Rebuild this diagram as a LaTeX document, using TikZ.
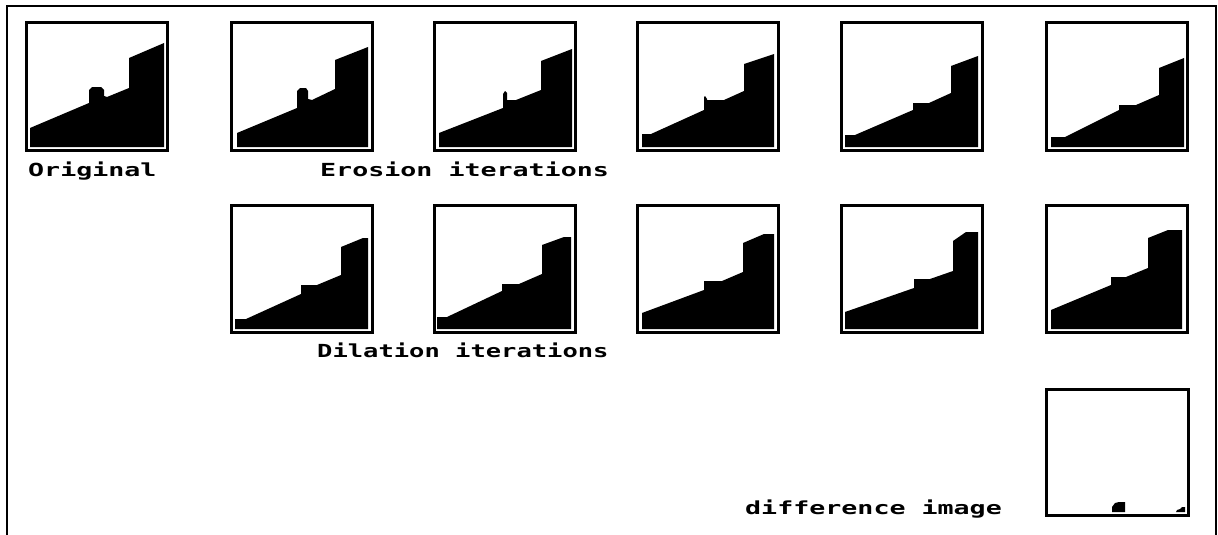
\documentclass[tikz,border=0pt]{standalone}
\usepackage{fontspec}
\newfontfamily\pixfont[FakeStretch=1.48]{DejaVu Sans Mono}
\newfontfamily\pixfontn[FakeStretch=1.415]{DejaVu Sans Mono}
\tikzset{
  imgbox/.style={draw=black, line width=3pt, minimum width=141pt, minimum height=127pt,
    inner sep=0pt, outer sep=0pt, anchor=north west, fill=none},
  lbl/.style={anchor=base west, inner sep=0pt, font=\pixfont\bfseries\fontsize{18}{18}\selectfont},
  lbln/.style={anchor=base west, inner sep=0pt, font=\pixfontn\bfseries\fontsize{18}{18}\selectfont},
  blob/.style={fill=black}
}
\begin{document}
\begin{tikzpicture}[x=1pt,y=-1pt]
\useasboundingbox (0,0) rectangle (1218,535);
% outer frame
\coordinate (fbl) at (7,540);
\coordinate (ftl) at (7,6);
\coordinate (ftr) at (1216,6);
\coordinate (fbr) at (1216,540);
\draw[line width=2.5pt] (fbl) -- (ftl) -- (ftr) -- (fbr);

% boxes
\node[imgbox] (orig) at (26,23) {};
\node[imgbox] (e1) at (231,23) {};
\node[imgbox] (e2) at (434,23) {};
\node[imgbox] (e3) at (637,23) {};
\node[imgbox] (e4) at (841,23) {};
\node[imgbox] (e5) at (1046,23) {};
\node[imgbox] (d1) at (231,205) {};
\node[imgbox] (d2) at (434,205) {};
\node[imgbox] (d3) at (637,205) {};
\node[imgbox] (d4) at (841,205) {};
\node[imgbox] (d5) at (1046,205) {};
\node[imgbox, minimum width=142pt, minimum height=126pt] (diff) at (1046,389) {};

% shapes
\begin{scope}[shift={(orig.north west)}]
\fill[blob] (4,124)--(4,105)--(63,80)--(63,67)--(66,64)--(75,64)--(78,67)--(78,73)--(81,74)--(103,65)--(103,35)--(138,20)--(138,124)--cycle;
\end{scope}
\begin{scope}[shift={(e1.north west)}]
\fill[blob] (6,124)--(6,110)--(66,85)--(66,68)--(69,65)--(75,65)--(77,68)--(77,76)--(81,77)--(104,66)--(104,37)--(137,24)--(137,124)--cycle;
\end{scope}
\begin{scope}[shift={(e2.north west)}]
\fill[blob] (5,124)--(5,110)--(69,85)--(69,71)--(71,68)--(73,70)--(73,77)--(82,77)--(107,67)--(107,38)--(138,26)--(138,124)--cycle;
\end{scope}
\begin{scope}[shift={(e3.north west)}]
\fill[blob] (5,124)--(5,111)--(14,111)--(67,87)--(67,74)--(68,73)--(70,76)--(70,77)--(87,77)--(107,68)--(107,41)--(137,31)--(137,124)--cycle;
\end{scope}
\begin{scope}[shift={(e4.north west)}]
\fill[blob] (4,124)--(4,112)--(14,112)--(72,87)--(72,80)--(88,80)--(110,70)--(110,43)--(137,33)--(137,124)--cycle;
\end{scope}
\begin{scope}[shift={(e5.north west)}]
\fill[blob] (5,124)--(5,114)--(19,114)--(73,87)--(73,82)--(90,82)--(113,72)--(113,45)--(138,35)--(138,124)--cycle;
\end{scope}
\begin{scope}[shift={(d1.north west)}]
\fill[blob] (4,124)--(4,114)--(15,114)--(70,89)--(70,80)--(86,80)--(110,70)--(110,42)--(132,33)--(137,33)--(137,124)--cycle;
\end{scope}
\begin{scope}[shift={(d2.north west)}]
\fill[blob] (3,124)--(3,112)--(13,112)--(68,86)--(68,79)--(85,79)--(108,69)--(108,40)--(130,32)--(137,32)--(137,124)--cycle;
\end{scope}
\begin{scope}[shift={(d3.north west)}]
\fill[blob] (5,124)--(5,108)--(67,85)--(67,76)--(85,76)--(106,67)--(106,38)--(127,29)--(137,29)--(137,124)--cycle;
\end{scope}
\begin{scope}[shift={(d4.north west)}]
\fill[blob] (4,124)--(4,107)--(73,83)--(73,74)--(89,74)--(112,66)--(112,36)--(125,27)--(137,27)--(137,124)--cycle;
\end{scope}
\begin{scope}[shift={(d5.north west)}]
\fill[blob] (5,124)--(5,105)--(65,80)--(65,72)--(80,72)--(102,63)--(102,33)--(122,25)--(136,25)--(136,124)--cycle;
\end{scope}
\begin{scope}[shift={(diff.north west)}]
\fill[blob] (66,123)--(66,118)--(69,114)--(73,113)--(79,113)--(79,123)--cycle;
\fill[blob] (130,123)--(131,121)--(134,120)--(136,118)--(139,118)--(139,123)--cycle;
\end{scope}

% labels
\node[lbl] (lorig) at (28,176) {Original};
\node[lbl] (lero) at (320,176) {Erosion iterations};
\node[lbln] (ldil) at (317,357) {Dilation iterations};
\node[lbl] (ldiff) at (745,514) {difference image};
\end{tikzpicture}
\end{document}
